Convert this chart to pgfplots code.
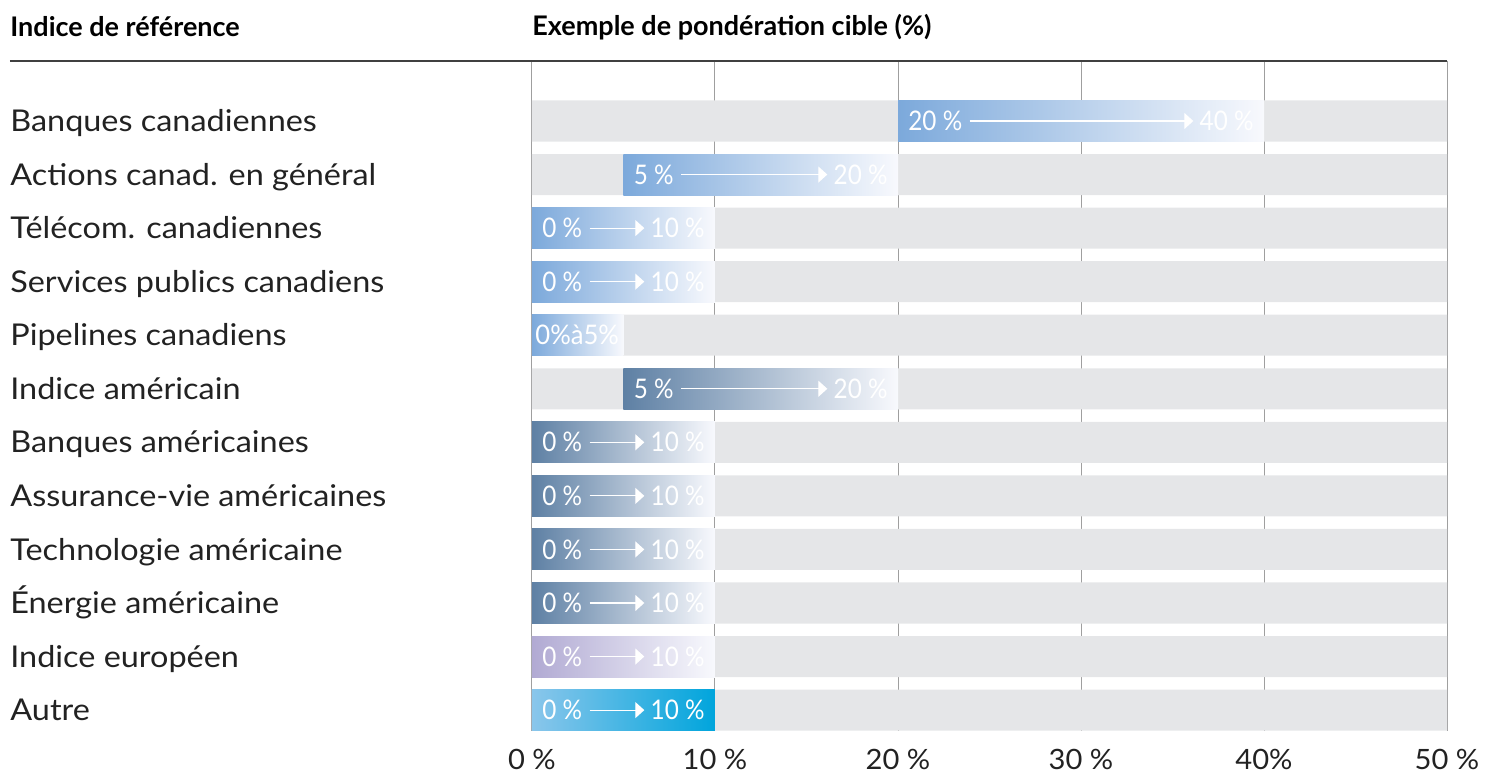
\documentclass[border=0pt]{standalone}
\usepackage{fontspec}
\setmainfont{Lato}
\newfontfamily\catfont{Lato}[FakeStretch=1.08]
\newfontfamily\tickfont{Lato}[FakeStretch=1.04]
\usepackage{pgfplots}
\pgfplotsset{compat=1.18}
\usetikzlibrary{arrows.meta}

\definecolor{bgbar}{HTML}{E5E6E8}
\definecolor{cblue}{HTML}{7CA9DB}
\definecolor{cslate}{HTML}{5E80A4}
\definecolor{clav}{HTML}{B1AAD3}
\definecolor{ccyanL}{HTML}{8AC6EB}
\definecolor{ccyan}{HTML}{00A5DC}
\definecolor{fade}{HTML}{F8F9FD}
\definecolor{txt}{HTML}{222222}

% colored range bar: y low, y high, start, end, left colour, right colour
\newcommand\rng[6]{%
  \addplot[draw=none, left color=#5, right color=#6, forget plot]
    coordinates {(#3,#1) (#4,#1) (#4,#2) (#3,#2)};}

% in-bar label: row, start, end, left text, right text
\newcommand\lab[5]{%
  \node[inbar, anchor=west, xshift=5pt] (L) at (axis cs:#2,#1) {\scalebox{0.9}[1]{#4}};
  \node[inbar, anchor=east, xshift=-5pt] (R) at (axis cs:#3,#1) {\scalebox{0.9}[1]{#5}};
  \draw[white, line width=0.6pt, -{Triangle[width=8pt,length=4.5pt]},
        shorten <=3.5pt, shorten >=3pt] (L.east) -- (R.west);}

\begin{document}
\begin{tikzpicture}[inbar/.style={text=white, inner sep=0pt, font=\fontsize{13.5}{13.5}\selectfont}]
\begin{axis}[
    scale only axis,
    width=457.5pt, height=334.8pt,
    xmin=0, xmax=50,
    ymin=-0.12, ymax=12.383,
    y dir=reverse,
    axis line style={draw=none},
    major tick length=0pt,
    xmajorgrids,
    grid style={gray!75, line width=0.5pt},
    xtick={0,10,20,30,40,50},
    xticklabels={0 \%, 10 \%, 20 \%, 30 \%, 40\%, 50 \%},
    xticklabel style={font=\tickfont\fontsize{14}{14}\selectfont, text=txt, yshift=-6pt},
    ytick={1,...,12},
    yticklabels={Banques canadiennes, Actions canad. en général, Télécom. canadiennes,
      Services publics canadiens, Pipelines canadiens, Indice américain,
      Banques américaines, Assurance-vie américaines, Technologie américaine,
      Énergie américaine, Indice européen, Autre},
    yticklabel style={anchor=base west, xshift=-261pt, yshift=-5.3pt, inner xsep=0pt,
      font=\catfont\fontsize{15}{15}\selectfont, text=txt},
    clip=false,
]
% gray background bars
\addplot[xbar, bar width=0.766, bar shift=0pt, fill=bgbar, draw=none, forget plot]
  coordinates {(50,1) (50,2) (50,3) (50,4) (50,5) (50,6)
               (50,7) (50,8) (50,9) (50,10) (50,11) (50,12)};

% target ranges
\rng{0.617}{1.383}{20}{40}{cblue}{fade}
\rng{1.617}{2.383}{5}{20}{cblue}{fade}
\rng{2.617}{3.383}{0}{10}{cblue}{fade}
\rng{3.617}{4.383}{0}{10}{cblue}{fade}
\rng{4.617}{5.383}{0}{5}{cblue}{fade}
\rng{5.617}{6.383}{5}{20}{cslate}{fade}
\rng{6.617}{7.383}{0}{10}{cslate}{fade}
\rng{7.617}{8.383}{0}{10}{cslate}{fade}
\rng{8.617}{9.383}{0}{10}{cslate}{fade}
\rng{9.617}{10.383}{0}{10}{cslate}{fade}
\rng{10.617}{11.383}{0}{10}{clav}{fade}
\rng{11.617}{12.383}{0}{10}{ccyanL}{ccyan}

\lab{1}{20}{40}{20 \%}{40 \%}
\lab{2}{5}{20}{5 \%}{20 \%}
\lab{3}{0}{10}{0 \%}{10 \%}
\lab{4}{0}{10}{0 \%}{10 \%}
\node[inbar, anchor=west, xshift=1.5pt] at (axis cs:0,5) {\scalebox{0.95}[1]{0\%à5\%}};
\lab{6}{5}{20}{5 \%}{20 \%}
\lab{7}{0}{10}{0 \%}{10 \%}
\lab{8}{0}{10}{0 \%}{10 \%}
\lab{9}{0}{10}{0 \%}{10 \%}
\lab{10}{0}{10}{0 \%}{10 \%}
\lab{11}{0}{10}{0 \%}{10 \%}
\lab{12}{0}{10}{0 \%}{10 \%}

% header rule and titles
\draw[color=black!75, line width=0.75pt]
  ([xshift=-261pt]axis description cs:0,1) -- (axis description cs:1,1);
\node[anchor=west, inner sep=0pt, text=black, font=\bfseries\fontsize{13.5}{13.5}\selectfont]
  at ([xshift=-261pt, yshift=17pt]axis description cs:0,1) {Indice de référence};
\node[anchor=west, inner sep=0pt, text=black, font=\bfseries\fontsize{13.5}{13.5}\selectfont]
  at ([yshift=17pt]axis description cs:0,1) {Exemple de pondération cible (\%)};
\end{axis}
\path ([xshift=-266pt, yshift=30.5pt]current axis.north west) rectangle
      ([xshift=19.5pt, yshift=-21.7pt]current axis.south east);
\end{tikzpicture}
\end{document}
